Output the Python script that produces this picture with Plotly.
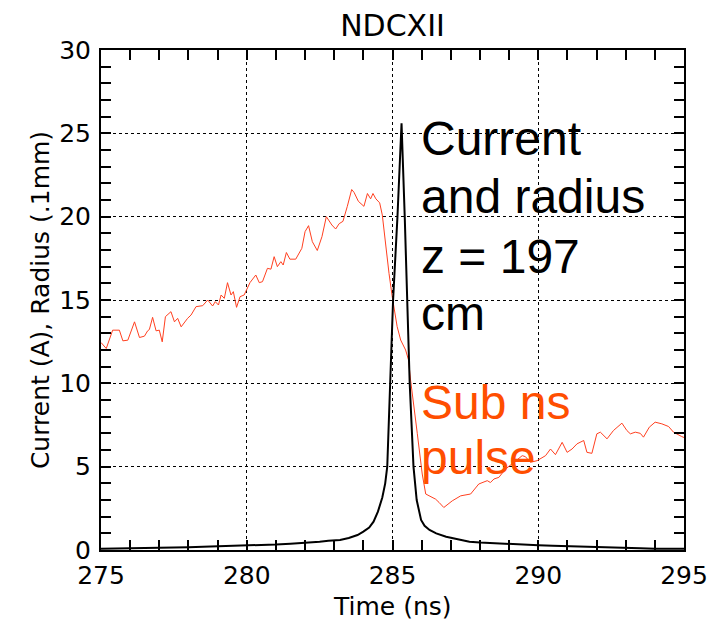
import plotly.graph_objects as go

# Current (black) trace
t_current = [275.0, 275.5, 276.0, 276.5, 277.0, 277.5, 278.0, 278.5, 279.0, 279.5,
             280.0, 280.5, 281.0, 281.5, 282.0, 282.5, 282.8, 283.2, 283.5, 283.8,
             284.0, 284.2, 284.35, 284.5, 284.65, 284.75, 284.82, 284.92, 285.02, 285.17,
             285.31, 285.42, 285.50, 285.59, 285.72, 285.83, 285.98, 286.1, 286.27, 286.5,
             286.84, 287.2, 287.64, 288.0, 288.5, 289.0, 289.5, 290.0, 290.5, 291.0,
             291.5, 292.0, 292.5, 293.0, 293.5, 294.0, 294.5, 295.0]
current = [0.08, 0.09, 0.10, 0.12, 0.12, 0.15, 0.17, 0.20, 0.22, 0.24,
           0.27, 0.30, 0.33, 0.38, 0.42, 0.50, 0.55, 0.60, 0.72, 0.90,
           1.10, 1.35, 1.70, 2.30, 3.15, 4.00, 5.00, 10.0, 15.0, 20.0,
           25.6, 20.0, 15.0, 10.0, 5.0, 3.0, 1.8, 1.45, 1.2, 1.0,
           0.8, 0.65, 0.5, 0.45, 0.40, 0.35, 0.32, 0.28, 0.25, 0.22,
           0.18, 0.15, 0.12, 0.10, 0.10, 0.08, 0.08, 0.07]

# Radius (red) trace
t_radius = [275.00, 275.18, 275.40, 275.63, 275.75, 275.92, 276.15, 276.32, 276.49, 276.60,
            276.66, 276.77, 276.89, 277.00, 277.10, 277.21, 277.40, 277.52, 277.63, 277.75,
            277.97, 278.09, 278.26, 278.49, 278.66, 278.83, 278.92, 279.03, 279.12, 279.23,
            279.34, 279.46, 279.54, 279.65, 279.77, 279.91, 280.11, 280.31, 280.43, 280.54,
            280.71, 280.83, 280.94, 281.05, 281.17, 281.25, 281.36, 281.48, 281.68, 281.89,
            282.00, 282.12, 282.25, 282.42, 282.58, 282.73, 282.92, 283.05, 283.17, 283.30,
            283.45, 283.60, 283.68, 283.83, 284.02, 284.14, 284.25, 284.33, 284.43, 284.56,
            284.65, 284.77, 284.88, 284.99, 285.16, 285.28, 285.45, 285.55, 285.62, 285.85,
            286.02, 286.14, 286.30, 286.48, 286.60, 286.76, 287.05, 287.34, 287.68, 287.96,
            288.25, 288.36, 288.48, 288.65, 288.88, 289.16, 289.45, 289.56, 289.73, 289.96,
            290.25, 290.42, 290.59, 290.82, 290.99, 291.16, 291.33, 291.56, 291.67, 291.84,
            292.01, 292.13, 292.36, 292.58, 292.87, 293.04, 293.16, 293.33, 293.50, 293.61,
            293.81, 294.01, 294.24, 294.47, 294.64, 294.92, 295.00]
radius = [12.45, 12.09, 13.19, 13.19, 12.55, 12.59, 13.69, 12.75, 12.83, 13.15,
          13.23, 13.96, 13.15, 13.19, 12.49, 14.00, 14.30, 13.69, 13.90, 13.39,
          13.90, 14.10, 14.60, 14.66, 15.00, 14.64, 14.90, 14.70, 15.30, 15.10,
          16.04, 15.30, 15.50, 14.56, 15.20, 15.30, 16.04, 16.50, 16.04, 16.10,
          16.90, 16.85, 17.60, 17.00, 17.30, 17.10, 17.85, 17.45, 17.45, 18.10,
          19.10, 19.46, 18.50, 17.97, 18.80, 20.00, 19.50, 19.26, 19.58, 19.72,
          20.62, 21.63, 21.46, 20.92, 20.62, 21.39, 21.07, 21.39, 21.07, 20.83,
          20.10, 18.20, 16.60, 15.20, 13.40, 12.60, 12.00, 11.40, 10.20, 7.00,
          4.56, 3.36, 3.20, 3.05, 2.85, 2.55, 2.95, 3.25, 3.36, 3.96,
          4.16, 4.05, 4.26, 4.36, 4.86, 5.26, 5.66, 5.60, 5.26, 5.36,
          5.66, 6.06, 5.72, 6.46, 5.86, 6.06, 6.37, 6.57, 5.86, 5.80,
          6.97, 7.07, 6.67, 7.17, 7.61, 7.17, 6.97, 7.07, 7.00, 6.77,
          7.37, 7.67, 7.57, 7.41, 7.07, 6.81, 6.75]

x_range = [275, 295]
y_range = [0, 30]
x_ticks = [275, 280, 285, 290, 295]
y_ticks = [0, 5, 10, 15, 20, 25, 30]

black_lines = ["Current", "and radius", "z = 197", "cm"]
black_y = [24.68, 21.2, 17.6, 14.18]
red_lines = ["Sub ns", "pulse"]
red_y = [8.88, 5.58]
text_x = 285.9

AX_FONT = dict(family="DejaVu Sans", size=25, color="black")

fig = go.Figure()
# empty trace that anchors the overlay (tick-mark) axes
fig.add_trace(go.Scatter(x=[], y=[], xaxis="x2", yaxis="y2", mode="lines",
                         showlegend=False, hoverinfo="skip"))
fig.add_trace(go.Scatter(x=t_radius, y=radius, mode="lines",
                         line=dict(color="#FF4020", width=1), showlegend=False))
fig.add_trace(go.Scatter(x=t_current, y=current, mode="lines",
                         line=dict(color="black", width=2), showlegend=False))

# primary axes: labels, grid, frame (invisible outside ticks push labels away)
main_axis = dict(
    showline=True, linecolor="black", linewidth=2, mirror=True,
    ticks="outside", tickcolor="rgba(0,0,0,0)", tickwidth=1,
    showgrid=True, gridcolor="black", griddash="dot", gridwidth=1,
    zeroline=False, tickfont=AX_FONT, tickmode="array", automargin=False,
)
# overlay axes: only the inside tick marks (major + minor) on all four sides
tick_axis = dict(
    showline=False, mirror="allticks", showticklabels=False, showgrid=False,
    zeroline=False, ticks="inside", ticklen=10, tickwidth=1.5, tickcolor="black",
    automargin=False,
    minor=dict(ticks="inside", ticklen=10, tickwidth=1.5, tickcolor="black",
               dtick=1, showgrid=False),
)

fig.update_layout(
    width=711, height=620, autosize=False,
    margin=dict(l=101, r=27, t=50, b=70),
    paper_bgcolor="white", plot_bgcolor="white",
    title=dict(text="NDCXII", x=0.5, xref="paper", xanchor="center",
               y=1 - 25 / 620, yref="container", yanchor="middle",
               font=dict(family="DejaVu Sans", size=30, color="black")),
    xaxis=dict(range=x_range, tickvals=x_ticks, ticklen=2, **main_axis),
    yaxis=dict(range=y_range, tickvals=y_ticks, ticklen=3,
               title=dict(text="Current (A), Radius (.1mm)", font=AX_FONT, standoff=2),
               **main_axis),
    xaxis2=dict(range=x_range, overlaying="x", anchor="y2", side="bottom",
                tickmode="array", tickvals=x_ticks, **tick_axis),
    yaxis2=dict(range=y_range, overlaying="y", anchor="x2", side="left",
                tickmode="array", tickvals=y_ticks, **tick_axis),
)

# x-axis title
fig.add_annotation(x=0.5, y=-0.112, xref="paper", yref="paper", text="Time (ns)",
                   showarrow=False, xanchor="center", yanchor="middle", font=AX_FONT)

for txt, yy in zip(black_lines, black_y):
    fig.add_annotation(x=text_x, y=yy, xref="x", yref="y", text=txt, showarrow=False,
                       xanchor="left", yanchor="middle",
                       font=dict(family="Liberation Sans", size=48, color="black"))
for txt, yy in zip(red_lines, red_y):
    fig.add_annotation(x=text_x, y=yy, xref="x", yref="y", text=txt, showarrow=False,
                       xanchor="left", yanchor="middle",
                       font=dict(family="Liberation Sans", size=48, color="#FF4E00"))

fig.write_html("out.html")
